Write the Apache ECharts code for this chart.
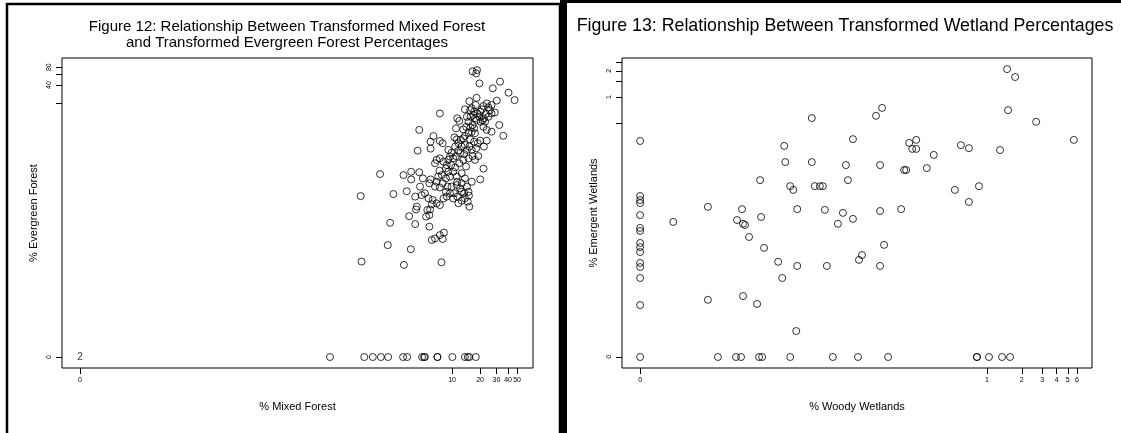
<!DOCTYPE html>
<html>
<head>
<meta charset="utf-8">
<script src="https://cdn.jsdelivr.net/npm/echarts@6.0.0/dist/echarts.min.js"></script>
<style>
  html, body { margin: 0; padding: 0; background: #fff; }
  #chart { width: 1121px; height: 433px; }
</style>
</head>
<body>
<div id="chart"></div>
<script>
// Both panels plot ln(percent + 0.001); axis ticks are placed at the raw percents.
const OFFSET = 0.001;
const T = v => Math.log(v + OFFSET);
const ZERO = -6.91; // ln(0 + 0.001)

// Figure 12: [ln(% mixed forest), ln(% evergreen forest)]
const fig12Points = [
  [2.81,4.22],[2.92,4.27],[2.90,4.14],[2.98,3.75],[3.49,3.82],[3.31,3.56],[3.70,3.39],[3.85,3.10],[2.91,3.19],[2.73,3.06],
  [3.41,3.08],[3.28,2.91],[3.16,2.97],[3.08,2.87],[2.89,2.91],[2.62,2.74],[2.75,2.71],[2.00,2.58],[3.36,2.62],[3.00,2.65],
  [3.14,2.56],[3.09,2.39],[3.20,2.45],[3.06,2.32],[3.12,2.26],[2.43,2.39],[2.48,2.29],[2.67,2.45],[2.83,2.52],[2.71,2.26],
  [2.91,2.32],[2.81,2.13],[2.65,2.06],[2.76,2.04],[2.85,2.00],[2.58,1.96],[2.71,1.83],[3.47,2.13],[3.57,1.71],[3.28,1.87],
  [3.16,1.94],[3.08,2.06],[1.49,1.94],[1.84,1.70],[1.77,1.48],[1.77,1.21],[1.45,1.13],[2.00,1.51],[2.07,1.42],[2.40,2.00],
  [2.36,1.65],[2.42,1.57],[2.38,1.29],[2.46,1.13],[2.21,1.16],[2.29,1.05],[2.58,1.61],[2.54,1.29],[2.67,1.16],[2.75,1.57],
  [2.85,1.48],[2.94,1.42],[2.90,1.22],[2.81,0.92],[2.95,0.92],[2.71,0.83],[2.58,0.77],[3.16,1.52],[3.00,1.52],[3.09,1.29],
  [1.92,0.77],[2.00,0.83],[2.09,0.70],[1.88,0.64],[2.21,0.77],[2.33,0.83],[2.48,0.64],[2.38,0.48],[2.28,0.57],[3.08,0.43],
  [3.00,0.01],[2.17,0.57],[2.21,0.31],[2.15,0.05],[2.25,0.12],[1.99,0.35],[1.96,0.12],[2.05,0.18],[1.92,-0.08],[1.88,-0.27],
  [2.00,-0.30],[2.29,-0.27],[2.42,-0.21],[2.50,-0.34],[2.35,-0.53],[2.43,-0.66],[2.54,-0.47],[2.67,-0.27],[2.60,-0.53],[2.71,-0.47],
  [2.62,-0.73],[2.72,-0.62],[2.69,-0.86],[2.73,-1.05],[2.54,-0.82],[2.46,-0.92],[0.52,0.22],[1.10,0.18],[1.29,0.31],[1.29,0.01],
  [1.49,0.29],[1.58,0.05],[1.77,0.01],[1.74,-0.14],[1.51,-0.27],[1.55,-0.60],[1.63,-0.53],[1.39,-0.66],[1.43,-1.05],[0.04,-0.64],
  [0.85,-0.56],[1.18,-0.45],[1.72,-0.73],[1.82,-0.79],[1.92,-0.92],[2.09,-0.73],[2.17,-0.66],[2.25,-0.53],[2.33,-0.73],[2.00,-0.99],
  [1.80,-0.96],[1.69,-1.18],[1.74,-1.38],[1.66,-1.44],[1.24,-1.42],[1.41,-1.16],[1.76,-1.16],[0.77,-1.68],[1.39,-1.73],[1.74,-1.83],
  [1.80,-2.35],[1.88,-2.29],[2.10,-2.06],[2.00,-2.16],[0.71,-2.55],[1.28,-2.71],[0.06,-3.19],[1.11,-3.32],[2.04,-3.22],[2.07,-2.31],
  [2.79,2.78],[2.85,2.65],[2.93,2.58],[3.04,2.74],[3.20,2.82],[3.24,2.71],[3.28,2.58],[2.76,2.45],[2.87,2.39],[2.98,2.45],
  [3.01,2.26],[2.79,1.87],[2.87,1.81],[2.62,1.70],[2.52,1.55],[2.46,1.42],[2.62,1.35],[2.73,1.29],[2.79,1.16],[2.50,1.03],
  [2.40,0.92],[2.60,1.00],[2.87,0.77],[2.25,0.90],[2.15,0.44],[2.33,0.31],[2.42,0.12],[2.54,0.25],[2.62,0.05],[2.79,-0.08],
  [2.07,-0.14],[2.19,-0.27],[2.15,-0.47],[2.54,-0.14],[2.43,-0.08],[2.65,0.51]
];
// Figure 12 sites with no evergreen forest (y = 0)
const fig12ZeroEvergreen = [-0.72,0.13,0.34,0.54,0.72,1.09,1.19,1.56,1.61,1.63,1.94,1.94,2.31,2.62,2.69,2.73,2.89];
// Sites with 0 % of both covers
const fig12OriginCount = 2;

// Figure 13: [ln(% woody wetlands), ln(% emergent wetlands)]
const fig13Points = [
  [ZERO,-1.17],[ZERO,-2.63],[ZERO,-2.74],[ZERO,-2.82],[ZERO,-3.14],[ZERO,-3.48],[ZERO,-3.56],[ZERO,-3.88],[ZERO,-3.99],[ZERO,-4.12],
  [ZERO,-4.41],[ZERO,-4.52],[ZERO,-4.81],[ZERO,-5.53],[ZERO,ZERO],
  [-6.25,-3.32],[-5.56,-2.92],[-5.56,-5.39],[-5.36,ZERO],[-5.00,ZERO],[-4.90,ZERO],[-4.98,-3.27],[-4.88,-2.98],[-4.86,-3.37],[-4.82,-3.40],
  [-4.74,-3.72],[-4.86,-5.29],[-4.58,-5.50],[-4.54,ZERO],[-4.48,ZERO],[-4.50,-3.19],[-4.52,-2.21],[-4.44,-4.01],[-4.16,-4.38],[-4.08,-4.81],
  [-4.04,-1.30],[-4.02,-1.73],[-3.92,-2.37],[-3.86,-2.47],[-3.78,-2.98],[-3.78,-4.49],[-3.92,ZERO],[-3.80,-6.22],[-3.49,-0.56],[-3.49,-1.73],
  [-3.43,-2.37],[-3.33,-2.37],[-3.27,-2.37],[-3.23,-3.00],[-3.19,-4.49],[-3.07,ZERO],[-2.97,-3.37],[-2.87,-3.08],[-2.77,-2.21],[-2.81,-1.81],
  [-2.67,-1.12],[-2.67,-3.24],[-2.57,ZERO],[-2.55,-4.33],[-2.49,-4.20],[-2.21,-0.50],[-2.09,-0.29],[-2.13,-1.81],[-2.13,-3.03],[-2.13,-4.49],
  [-2.05,-3.93],[-1.97,ZERO],[-1.71,-2.98],[-1.65,-1.94],[-1.61,-1.94],[-1.55,-1.22],[-1.49,-1.38],[-1.41,-1.38],[-1.41,-1.14],[-1.20,-1.89],
  [-1.06,-1.54],[-0.64,-2.47],[-0.52,-1.28],[-0.36,-1.36],[-0.36,-2.79],[-0.16,-2.37],[-0.20,ZERO],[-0.20,ZERO],[0.04,ZERO],[0.26,-1.41],
  [0.30,ZERO],[0.46,ZERO],[0.40,0.74],[0.56,0.53],[0.42,-0.35],[0.98,-0.66],[1.73,-1.14]
];

// Tick positions and labels, in raw percent
const fig12XTicks = [0, 10, 20, 30, 40, 50];
const fig12XLabels = [0, 10, 20, 30, 40, 50];
const fig12YTicks = [0, 20, 40, 60, 80];
const fig12YLabels = [0, 40, 80];
const fig13XTicks = [0, 1, 2, 3, 4, 5, 6];
const fig13XLabels = [0, 1, 2, 3, 4, 5, 6];
const fig13YTicks = [0, 0.5, 1, 1.5, 2, 2.5];
const fig13YLabels = [0, 1, 2];

const FONT = '"Liberation Sans", Arial, sans-serif';
const pct = v => String(Math.round((Math.exp(v) - OFFSET) * 10) / 10);

function axis(opts) {
  return {
    type: 'value',
    gridIndex: opts.grid,
    min: opts.min,
    max: opts.max,
    name: opts.name,
    nameLocation: 'middle',
    nameGap: opts.nameGap,
    nameRotate: opts.vertical ? 90 : 0,
    nameTextStyle: { fontFamily: FONT, fontSize: 11, color: '#000' },
    axisLine: { show: false, onZero: false },
    splitLine: { show: false },
    axisTick: {
      show: true, inside: false, length: 6,
      customValues: opts.ticks.map(T),
      lineStyle: { color: '#000', width: 1 }
    },
    axisLabel: {
      show: true,
      customValues: opts.labels.map(T),
      formatter: pct,
      rotate: opts.vertical ? 90 : 0,
      margin: 9,
      fontFamily: FONT, fontSize: 7, color: '#000'
    }
  };
}

const circle = {
  type: 'scatter',
  symbol: 'circle',
  symbolSize: 7,
  itemStyle: { color: 'rgba(0,0,0,0)', borderColor: '#000', borderWidth: 1 },
  emphasis: { disabled: true },
  silent: true
};

const chart = echarts.init(document.getElementById('chart'), null, { renderer: 'canvas' });
chart.setOption({
  animation: false,
  backgroundColor: '#fff',
  grid: [
    { left: 62, top: 58, width: 471, height: 310, show: true, borderColor: '#000', borderWidth: 1, backgroundColor: 'transparent' },
    { left: 622, top: 58, width: 470, height: 310, show: true, borderColor: '#000', borderWidth: 1, backgroundColor: 'transparent' }
  ],
  xAxis: [
    axis({ grid: 0, min: -7.354, max: 4.306, name: '% Mixed Forest', nameGap: 33, ticks: fig12XTicks, labels: fig12XLabels }),
    axis({ grid: 1, min: -7.271, max: 2.092, name: '% Woody Wetlands', nameGap: 33, ticks: fig13XTicks, labels: fig13XLabels })
  ],
  yAxis: [
    axis({ grid: 0, min: -7.337, max: 4.741, name: '% Evergreen Forest', nameGap: 23, vertical: true, ticks: fig12YTicks, labels: fig12YLabels }),
    axis({ grid: 1, min: -7.202, max: 1.036, name: '% Emergent Wetlands', nameGap: 23, vertical: true, ticks: fig13YTicks, labels: fig13YLabels })
  ],
  series: [
    Object.assign({}, circle, {
      xAxisIndex: 0, yAxisIndex: 0,
      data: fig12Points.concat(fig12ZeroEvergreen.map(x => [x, ZERO]))
    }),
    {
      type: 'scatter', xAxisIndex: 0, yAxisIndex: 0, silent: true,
      symbolSize: 1, itemStyle: { color: 'rgba(0,0,0,0)' },
      label: {
        show: true, position: 'inside', formatter: String(fig12OriginCount),
        fontFamily: FONT, fontSize: 10, color: '#000'
      },
      data: [[T(0), T(0)]]
    },
    Object.assign({}, circle, {
      xAxisIndex: 1, yAxisIndex: 1,
      data: fig13Points
    })
  ],
  graphic: [
    { type: 'rect', shape: { x: 7, y: 4, width: 553, height: 440 }, style: { fill: 'none', stroke: '#000', lineWidth: 2.5 }, silent: true },
    { type: 'rect', shape: { x: 560, y: 0, width: 7, height: 433 }, style: { fill: '#000' }, silent: true },
    { type: 'rect', shape: { x: 560, y: 0, width: 561, height: 3 }, style: { fill: '#000' }, silent: true },
    {
      type: 'text', x: 287, y: 35, silent: true,
      style: {
        text: 'Figure 12: Relationship Between Transformed Mixed Forest\nand Transformed Evergreen Forest Percentages',
        align: 'center', verticalAlign: 'middle', lineHeight: 16,
        font: '15px ' + FONT, fill: '#000'
      }
    },
    {
      type: 'text', x: 845, y: 26, silent: true,
      style: {
        text: 'Figure 13: Relationship Between Transformed Wetland Percentages',
        align: 'center', verticalAlign: 'middle',
        font: '17.8px ' + FONT, fill: '#000'
      }
    }
  ]
});
</script>
</body>
</html>
